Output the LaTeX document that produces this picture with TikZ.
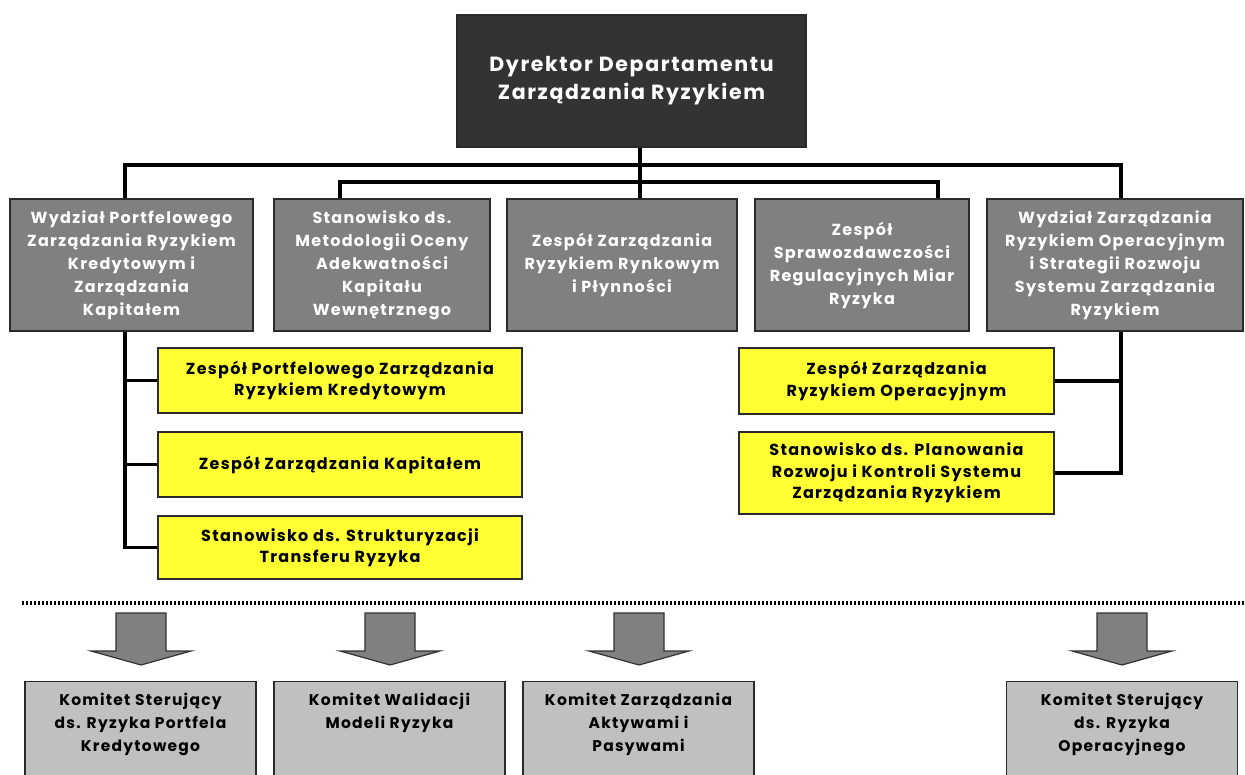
\documentclass[tikz,border=0pt]{standalone}
\usepackage{fontspec}
\setmainfont{Poppins}[LetterSpace=8]
\usepackage{tikz}

\definecolor{ciemny}{HTML}{333333}
\definecolor{szary}{HTML}{808080}
\definecolor{zolty}{HTML}{FFFF33}
\definecolor{jasny}{HTML}{C0C0C0}
\definecolor{ramka}{HTML}{2A2A2A}

\begin{document}
\begin{tikzpicture}[x=1pt, y=-1pt,
  every node/.style={draw=ramka, line width=1.2pt, inner sep=4pt},
  dyrektor/.style={fill=ciemny, text=white, align=center, minimum width=349pt, minimum height=132pt, font=\fontsize{20.5}{28}\selectfont\bfseries},
  wydzial/.style={fill=szary, text=white, align=center, minimum height=132pt, font=\fontsize{16}{23}\selectfont\bfseries},
  zespol/.style={fill=zolty, text=black, align=center, minimum width=364pt, font=\fontsize{16}{21.5}\selectfont\bfseries},
  komitet/.style={fill=jasny, text=black, anchor=north, minimum width=231pt, inner sep=6pt, text height=18pt, text depth=100pt, font=\fontsize{15.5}{23}\selectfont\bfseries},
  conn/.style={line width=3.5pt, black},
  blok/.style={fill=szary, draw=ciemny, line width=1.2pt, line join=miter}]
\useasboundingbox (0,0) rectangle (1245,774);

% dyrektor
\node[dyrektor] (dyr) at (631.5,81) {Dyrektor Departamentu\\Zarządzania Ryzykiem};

% pierwszy poziom
\node[wydzial, minimum width=243pt] (w1) at (131.5,265) {Wydział Portfelowego\\Zarządzania Ryzykiem\\Kredytowym i\\Zarządzania\\Kapitałem};
\node[wydzial, minimum width=216pt] (s2) at (382,265) {Stanowisko ds.\\Metodologii Oceny\\Adekwatności\\Kapitału\\Wewnętrznego};
\node[wydzial, minimum width=230pt] (z3) at (622,265) {Zespół Zarządzania\\Ryzykiem Rynkowym\\i Płynności};
\node[wydzial, minimum width=214pt] (z4) at (862,265) {Zespół\\Sprawozdawczości\\Regulacyjnych Miar\\Ryzyka};
\node[wydzial, minimum width=256pt] (w5) at (1115,265) {Wydział Zarządzania\\Ryzykiem Operacyjnym\\i Strategii Rozwoju\\Systemu Zarządzania\\Ryzykiem};

% zespoly
\node[zespol, minimum height=65pt] (zp1) at (340,380.5) {Zespół Portfelowego Zarządzania\\Ryzykiem Kredytowym};
\node[zespol, minimum height=65pt] (zp2) at (340,464.5) {Zespół Zarządzania Kapitałem};
\node[zespol, minimum height=63pt] (zp3) at (340,547.5) {Stanowisko ds. Strukturyzacji\\Transferu Ryzyka};
\node[zespol, minimum width=315pt, minimum height=66pt] (zp4) at (896.5,381) {Zespół Zarządzania\\Ryzykiem Operacyjnym};
\node[zespol, minimum width=315pt, minimum height=82pt] (zp5) at (896.5,473) {Stanowisko ds. Planowania\\Rozwoju i Kontroli Systemu\\Zarządzania Ryzykiem};

% komitety
\node[komitet] (k1) at (140.5,681) {\parbox[t]{215pt}{\centering Komitet Sterujący\\ds. Ryzyka Portfela\\Kredytowego}};
\node[komitet] (k2) at (389.5,681) {\parbox[t]{215pt}{\centering Komitet Walidacji\\Modeli Ryzyka}};
\node[komitet] (k3) at (638.5,681) {\parbox[t]{215pt}{\centering Komitet Zarządzania\\Aktywami i\\Pasywami}};
\node[komitet] (k4) at (1122,681) {\parbox[t]{215pt}{\centering Komitet Sterujący\\ds. Ryzyka\\Operacyjnego}};

% polaczenia
\coordinate (szynaA) at (640,165);
\coordinate (szynaB) at (640,182);
\coordinate (odgA1) at (125,165);
\coordinate (odgA5) at (1121,165);
\coordinate (odgB2) at (340,182);
\coordinate (odgB4) at (938,182);

\draw[conn] (dyr.south -| szynaA) -- (z3.north -| szynaA);
\draw[conn] (w1.north -| odgA1) -- (odgA1) -- (odgA5) -- (w5.north -| odgA5);
\draw[conn] (s2.north -| odgB2) -- (odgB2) -- (odgB4) -- (z4.north -| odgB4);

\draw[conn] (w1.south -| odgA1) |- (zp3.west);
\draw[conn] (zp1.west) -- (zp1.west -| odgA1);
\draw[conn] (zp2.west) -- (zp2.west -| odgA1);
\draw[conn] (w5.south -| odgA5) |- (zp5.east);
\draw[conn] (zp4.east) -- (zp4.east -| odgA5);

% separator
\draw[line width=3.5pt, dash pattern=on 1.6pt off 2.4pt] (22,603) -- (1250,603);

% strzalki do komitetow
\foreach \ax in {141,390,639,1122}
  \draw[blok] (\ax-25,613) -- (\ax+25,613) -- (\ax+25,651) -- (\ax+50,651) -- (\ax,665) -- (\ax-50,651) -- (\ax-25,651) -- cycle;
\end{tikzpicture}
\end{document}
